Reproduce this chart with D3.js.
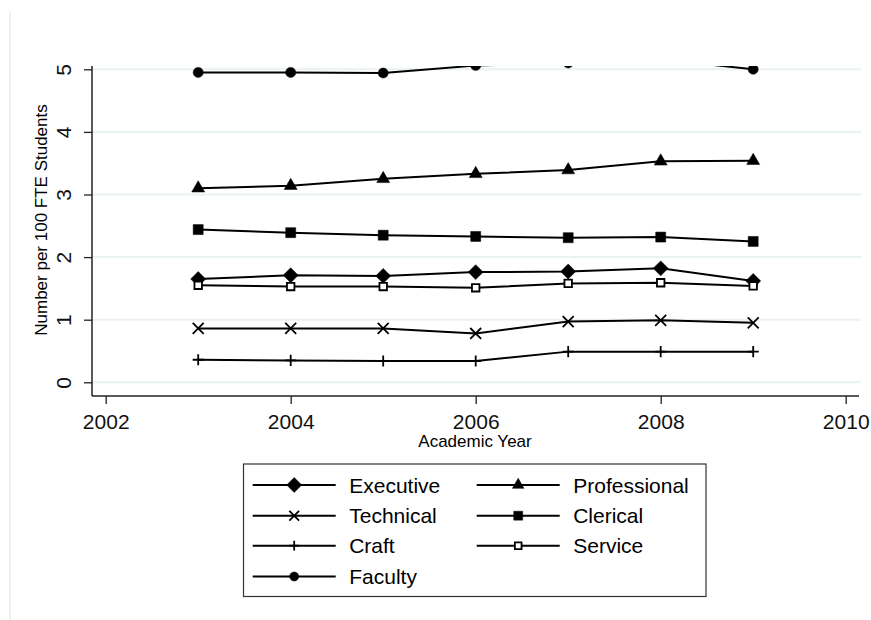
<meta charset="utf-8"/>
<html>
<head>
<script src="https://d3js.org/d3.v7.min.js"></script>
<style>
  * { margin: 0; padding: 0; }
  body { background: #fff; font-family: "Liberation Sans", Arial, sans-serif; }
</style>
</head>
<body>
<div id="chart"></div>
<script>
// values
var years = [2003, 2004, 2005, 2006, 2007, 2008, 2009];
var executive    = [1.65, 1.71, 1.70, 1.76, 1.77, 1.82, 1.62];
var professional = [3.10, 3.14, 3.25, 3.33, 3.39, 3.53, 3.54];
var technical    = [0.86, 0.86, 0.86, 0.78, 0.97, 0.99, 0.95];
var clerical     = [2.44, 2.39, 2.35, 2.33, 2.31, 2.32, 2.25];
var craft        = [0.36, 0.35, 0.34, 0.34, 0.49, 0.49, 0.49];
var service      = [1.55, 1.53, 1.53, 1.51, 1.58, 1.59, 1.54];
var faculty      = [4.95, 4.95, 4.94, 5.06, 5.10, 5.16, 5.00];

var xTicks = [2002, 2004, 2006, 2008, 2010];
var yTicks = [0, 1, 2, 3, 4, 5];

var series = [
  {name: 'Executive',    values: executive,    sym: d3.symbolDiamond2, size: 143, fill: true},
  {name: 'Professional', values: professional, sym: d3.symbolTriangle, size: 73,  fill: true},
  {name: 'Technical',    values: technical,    sym: d3.symbolTimes,    size: 80,  fill: false},
  {name: 'Clerical',     values: clerical,     sym: d3.symbolSquare,   size: 100, fill: true},
  {name: 'Craft',        values: craft,        sym: d3.symbolPlus,     size: 42,  fill: false},
  {name: 'Service',      values: service,      sym: d3.symbolSquare,   size: 56,  fill: false, hollow: true},
  {name: 'Faculty',      values: faculty,      sym: d3.symbolCircle,   size: 80,  fill: true}
];

var W = 871, H = 620;
var plot = {left: 92, right: 860, top: 66, bottom: 396};

var svg = d3.select('#chart').append('svg')
    .attr('width', W).attr('height', H);

// faint outer frame line on the left
svg.append('line')
    .attr('x1', 10).attr('x2', 10).attr('y1', 11).attr('y2', H)
    .attr('stroke', '#e6eeee').attr('stroke-width', 1.5);

var x = d3.scaleLinear().domain([2002, 2010]).range([105.7, 845.7]);
var y = d3.scaleLinear().domain([0, 5]).range([382.3, 69.3]);

// grid
svg.append('g').selectAll('line').data(yTicks).join('line')
    .attr('x1', plot.left).attr('x2', 861)
    .attr('y1', d => y(d)).attr('y2', d => y(d))
    .attr('stroke', '#eaf2f3').attr('stroke-width', 2);

// axes
var yAxis = d3.axisLeft(y).tickValues(yTicks).tickSize(8).tickFormat(d3.format('d'));
var gy = svg.append('g').attr('transform', 'translate(' + plot.left + ',0)').call(yAxis);
gy.select('.domain').remove();
gy.selectAll('.tick line').attr('stroke', '#222').attr('stroke-width', 1.3);
gy.selectAll('.tick text')
    .attr('x', null).attr('dy', null)
    .attr('transform', 'translate(-21,0) rotate(-90)')
    .attr('text-anchor', 'middle')
    .style('font-size', '21px').style('font-family', '"Liberation Sans", Arial, sans-serif')
    .attr('fill', '#111');

var xAxis = d3.axisBottom(x).tickValues(xTicks).tickSize(8).tickFormat(d3.format('d'));
var gx = svg.append('g').attr('transform', 'translate(0,' + plot.bottom + ')').call(xAxis);
gx.select('.domain').remove();
gx.selectAll('.tick line').attr('stroke', '#222').attr('stroke-width', 1.3);
gx.selectAll('.tick text')
    .attr('y', 33).attr('dy', null)
    .style('font-size', '21px').style('font-family', '"Liberation Sans", Arial, sans-serif')
    .attr('fill', '#111');

svg.append('line')
    .attr('x1', plot.left).attr('x2', plot.left).attr('y1', plot.top).attr('y2', plot.bottom)
    .attr('stroke', '#222').attr('stroke-width', 1.5);
svg.append('line')
    .attr('x1', plot.left).attr('x2', 859).attr('y1', plot.bottom).attr('y2', plot.bottom)
    .attr('stroke', '#222').attr('stroke-width', 1.5);

// axis titles
svg.append('text')
    .attr('transform', 'translate(47,220) rotate(-90)')
    .attr('text-anchor', 'middle')
    .style('font-size', '17px')
    .text('Number per 100 FTE Students');
svg.append('text')
    .attr('x', 475).attr('y', 446.5)
    .attr('text-anchor', 'middle')
    .style('font-size', '17px')
    .text('Academic Year');

// clip to plot region
svg.append('clipPath').attr('id', 'plotclip')
  .append('rect')
    .attr('x', plot.left).attr('y', plot.top)
    .attr('width', plot.right - plot.left).attr('height', plot.bottom - plot.top);

var g = svg.append('g').attr('clip-path', 'url(#plotclip)');

var line = d3.line().x((d, i) => x(years[i])).y(d => y(d));

function drawMarker(sel, s) {
  sel.attr('d', d3.symbol().type(s.sym).size(s.size)())
     .attr('fill', s.fill ? '#000' : (s.hollow ? '#fff' : 'none'))
     .attr('stroke', '#000')
     .attr('stroke-width', s.fill ? 0.5 : 1.8);
}

series.forEach(function (s) {
  g.append('path')
      .datum(s.values)
      .attr('fill', 'none')
      .attr('stroke', '#000')
      .attr('stroke-width', 2)
      .attr('d', line);
  g.selectAll(null).data(s.values).join('path')
      .attr('transform', (d, i) => 'translate(' + x(years[i]) + ',' + y(d) + ')')
      .call(drawMarker, s);
});

// legend
var lg = svg.append('g');
lg.append('rect')
    .attr('x', 243.5).attr('y', 464).attr('width', 462.5).attr('height', 132.5)
    .attr('fill', '#fff').attr('stroke', '#333').attr('stroke-width', 1.2);

var colX = [252.7, 476.7];
var rowY = [485, 515.7, 545.7, 576.5];

series.forEach(function (s, i) {
  var cx = colX[i % 2], cy = rowY[Math.floor(i / 2)];
  var item = lg.append('g').attr('transform', 'translate(' + cx + ',' + cy + ')');
  item.append('line').attr('x1', 0).attr('x2', 83).attr('y1', 0).attr('y2', 0)
      .attr('stroke', '#000').attr('stroke-width', 2);
  item.append('path').attr('transform', 'translate(41.5,0)')
      .call(drawMarker, Object.assign({}, s, {size: s.size * (i === 0 ? 1 : 0.8)}));
  item.append('text')
      .attr('x', 96.5).attr('y', 7.5)
      .style('font-size', '21px')
      .attr('fill', '#000')
      .text(s.name);
});
</script>
</body>
</html>
